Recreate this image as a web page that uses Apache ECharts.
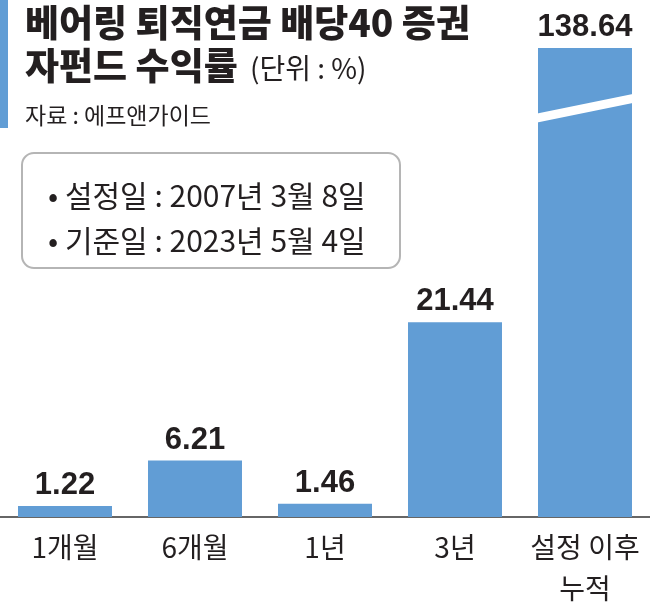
<!DOCTYPE html>
<html>
<head>
<meta charset="utf-8">
<script src="https://cdn.jsdelivr.net/npm/echarts@6/dist/echarts.min.js"></script>
<style>
html,body{margin:0;padding:0;background:#fff;}
#chart{width:650px;height:609px;}
</style>
</head>
<body>
<div id="chart"></div>
<script>
var categories = ['1개월', '6개월', '1년', '3년', '설정 이후\n누적'];
var values = [1.22, 6.21, 1.46, 21.44, 138.64];
var breakStart = 45;
var breakEnd = 132;
var breakCategoryIndex = 4;

var titleLine1 = '베어링 퇴직연금 배당40 증권';
var titleLine2 = '자펀드 수익률';
var unitText = '(단위 : %)';
var sourceText = '자료 : 에프앤가이드';
var noteLines = ['• 설정일 : 2007년 3월 8일', '• 기준일 : 2023년 5월 4일'];

var BLUE = '#619dd5';
var INK = '#231f20';
var KR = "'Noto Sans CJK KR', 'Noto Sans', sans-serif";
var NUM = "'Liberation Sans Narrow', 'Liberation Sans', sans-serif";
var gapRatio = 0.277;

var chart = echarts.init(document.getElementById('chart'), null, {renderer: 'canvas'});
var option = {
  backgroundColor: '#fff',
  animation: false,
  grid: {left: 0, right: 0, top: 48, bottom: 89, containLabel: false},
  xAxis: {
    type: 'category',
    data: categories,
    axisLine: {show: true, lineStyle: {color: '#333', width: 1.5}},
    axisTick: {show: false},
    axisLabel: {
      color: INK, fontFamily: KR, fontSize: 28, lineHeight: 41, margin: 10, interval: 0
    }
  },
  yAxis: {
    type: 'value',
    min: 0,
    max: values[4],
    show: false,
    splitLine: {show: false},
    breaks: [{start: breakStart, end: breakEnd, gap: 0}],
    breakArea: {show: false}
  },
  series: [
    {
      type: 'bar',
      data: values,
      barCategoryGap: (gapRatio * 100) + '%',
      itemStyle: {color: BLUE},
      label: {
        show: true, position: 'top', distance: 5,
        color: INK, fontFamily: NUM, fontWeight: 'bold', fontSize: 31,
        formatter: function (p) { return p.value.toFixed(2); }
      }
    },
    {
      type: 'custom',
      data: [[breakCategoryIndex, breakStart]],
      z: 10,
      silent: true,
      renderItem: function (params, api) {
        var p = api.coord([api.value(0), api.value(1)]);
        var w = api.size([1, 0])[0] * (1 - gapRatio);
        var half = w / 2 + 2;
        var t = 4.5, s = 10;
        return {
          type: 'polygon',
          shape: {points: [
            [p[0] - half, p[1] + s - t],
            [p[0] + half, p[1] - s - t],
            [p[0] + half, p[1] - s + t],
            [p[0] - half, p[1] + s + t]
          ]},
          style: {fill: '#fff'}
        };
      }
    }
  ],
  graphic: [
    {type: 'rect', shape: {x: 0, y: 0, width: 8, height: 128}, style: {fill: BLUE}},
    {type: 'text', x: 25, y: 23, style: {text: titleLine1, fill: INK, font: '900 37px ' + KR, textVerticalAlign: 'middle'}},
    {type: 'text', x: 25, y: 66, style: {text: titleLine2, fill: INK, font: '900 37px ' + KR, textVerticalAlign: 'middle'}},
    {type: 'text', x: 250, y: 68, style: {text: unitText, fill: INK, font: '28px ' + KR, textVerticalAlign: 'middle'}},
    {type: 'text', x: 25, y: 115, style: {text: sourceText, fill: INK, font: '23px ' + KR, textVerticalAlign: 'middle'}},
    {type: 'rect', shape: {x: 22, y: 153, width: 378, height: 115, r: 12}, style: {fill: '#fff', stroke: '#b5b5b5', lineWidth: 2}},
    {type: 'text', x: 48, y: 196, style: {text: noteLines[0], fill: INK, font: '30px ' + KR, textVerticalAlign: 'middle'}},
    {type: 'text', x: 48, y: 241, style: {text: noteLines[1], fill: INK, font: '30px ' + KR, textVerticalAlign: 'middle'}}
  ]
};
chart.setOption(option);
</script>
</body>
</html>
